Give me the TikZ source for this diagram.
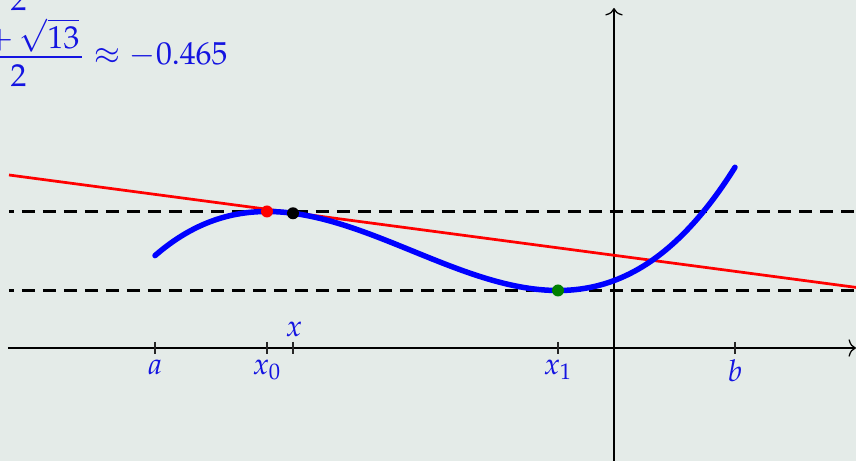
\documentclass[tikz,border=0pt,12pt]{standalone}
\usepackage{amsmath}
\usepackage{mathpazo}
\usetikzlibrary{arrows.meta}
\definecolor{bgc}{RGB}{228,235,232}
\definecolor{txtblue}{RGB}{20,20,225}
\definecolor{curveblue}{RGB}{0,0,255}
\definecolor{dotgreen}{RGB}{0,128,0}
\begin{document}
\begin{tikzpicture}[x=40pt,y=40pt,
  axis/.style={line width=0.5pt,black,-{To[length=3pt,width=7pt]}},
  tick/.style={line width=0.5pt,black!85},
  lbl/.style={text=txtblue,inner sep=0pt},
  levelline/.style={line width=1.2pt,black,dash pattern=on 5.2pt off 3.2pt,dash phase=3.2pt},
  tangentline/.style={line width=1.1pt,red},
  curve/.style={line width=2.2pt,curveblue,line cap=round},
  dot/.style={circle,inner sep=0pt,minimum size=4.8pt},
  declare function={f(\x)=1.365+0.19235*((\x+3.47)*(\x+3.47)*(\x+3.47)/3-1.455*(\x+3.47)*(\x+3.47));}
]
\useasboundingbox[fill=bgc] (-6.14,-1.13) rectangle (2.42,3.48);
% axes
\coordinate (xs) at (-6.06,0);
\coordinate (xe) at (2.42,0);
\coordinate (ys) at (0,-1.2);
\coordinate (ye) at (0,3.40);
\draw[axis] (xs) -- (xe);
\draw[axis] (ys) -- (ye);
% level lines
\coordinate (h1s) at (-6.05,1.365);
\coordinate (h1e) at (2.5,1.365);
\coordinate (h2s) at (-6.05,0.575);
\coordinate (h2e) at (2.5,0.575);
\draw[levelline] (h1s) -- (h1e);
\draw[levelline] (h2s) -- (h2e);
% tangent line
\coordinate (ts) at (-6.05,1.730);
\coordinate (te) at (2.42,0.606);
\draw[tangentline] (ts) -- (te);
% curve
\draw[curve] plot[domain=-4.59:1.21,samples=150,smooth] (\x,{f(\x)});
% ticks
\foreach \n/\p in {ta/-4.59,tx0/-3.47,tx/-3.21,tx1/-0.56,tb/1.21}{
  \coordinate (\n u) at (\p,0.06);
  \coordinate (\n d) at (\p,-0.06);
  \draw[tick] (\n u) -- (\n d);
}
% labels
\node[lbl,anchor=north] (la) at (-4.59,-0.11) {$a$};
\node[lbl,anchor=north] (lx0) at (-3.47,-0.11) {$x_0$};
\node[lbl,anchor=north] (lx1) at (-0.56,-0.11) {$x_1$};
\node[lbl,anchor=north] (lb) at (1.21,-0.11) {$b$};
\node[lbl,anchor=south] (lx) at (-3.20,0.11) {$x$};
% dots
\node[dot,fill=red] (p0) at (-3.47,{f(-3.47)}) {};
\node[dot,fill=black] (px) at (-3.21,{f(-3.21)}) {};
\node[dot,fill=dotgreen] (p1) at (-0.56,{f(-0.56)}) {};
% value text
\node[lbl,anchor=base east,font=\fontsize{12.7}{15}\selectfont] (val) at (-3.86,2.83)
  {$\dfrac{\genfrac{}{}{0pt}{0}{\smash[b]{\raisebox{-2pt}{$2$}}}{\mathord{\hspace{9pt}}+\sqrt{13}}}{2}\approx -0.465$};
\end{tikzpicture}
\end{document}
